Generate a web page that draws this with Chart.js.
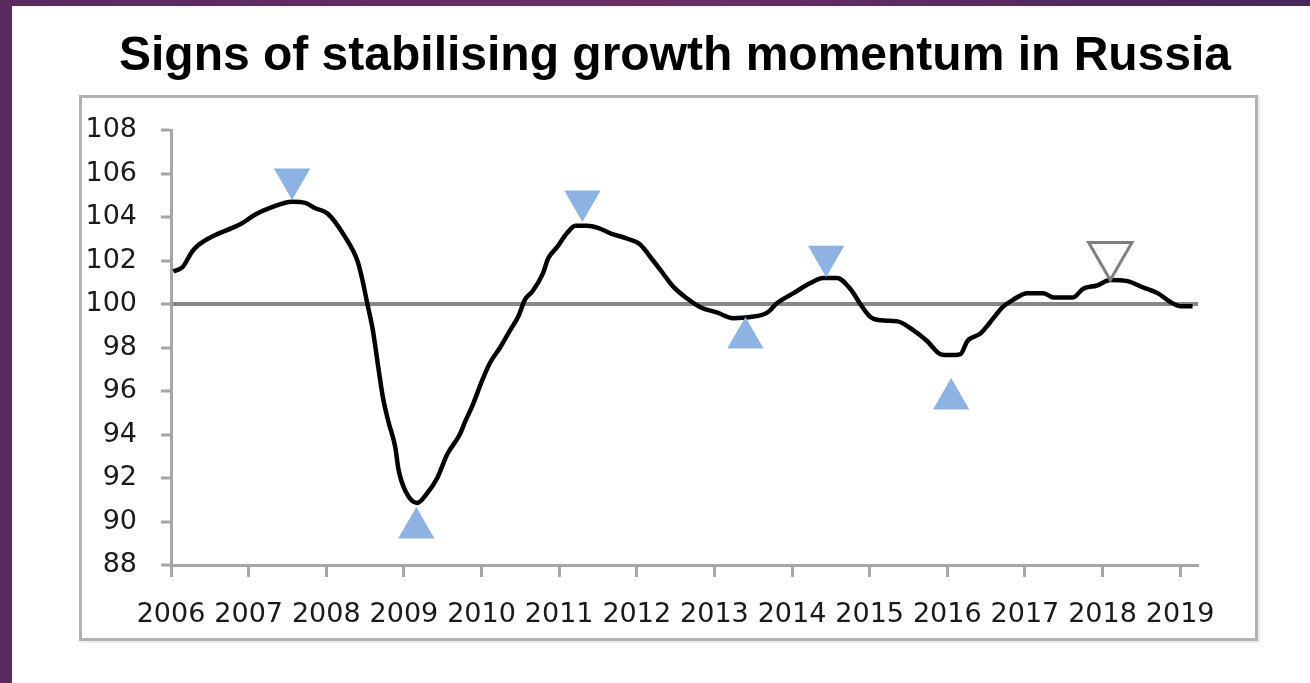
<!DOCTYPE html>
<html lang="en">
<head>
    <meta charset="UTF-8">
    <title>Signs of stabilising growth momentum in Russia</title>
    <script src="https://cdn.jsdelivr.net/npm/chart.js"></script>
    <style>
        html, body { margin: 0; padding: 0; }
        body {
            width: 1310px; height: 683px; overflow: hidden; position: relative;
            background: linear-gradient(90deg, #582a60, #6b2e66 50%, #45265a);
        }
        #page { position: absolute; left: 12px; top: 6px; width: 1298px; height: 677px; background: #fff; }
        #frame {
            position: absolute; left: 79px; top: 95px; width: 1179px; height: 546px;
            box-sizing: border-box; border: 3px solid #b2b2b2; box-shadow: 2px 2px 0 #ececec;
        }
        #chart { position: absolute; left: 0; top: 0; }
    </style>
</head>
<body>
    <div id="page"></div>
    <div id="frame"></div>
    <canvas id="chart" width="1310" height="683"></canvas>
    <script>
        const titleText = 'Signs of stabilising growth momentum in Russia';

        // Composite indicator (decimal years)
        const years = [
            2006.03, 2006.15, 2006.27, 2006.35, 2006.53, 2006.79, 2006.91, 2007.08, 2007.30, 2007.56,
            2007.73, 2007.86, 2008.02, 2008.24, 2008.40, 2008.46, 2008.53, 2008.60, 2008.67, 2008.73,
            2008.80, 2008.89, 2008.93, 2009.02, 2009.17, 2009.30, 2009.43, 2009.56, 2009.72, 2009.79,
            2009.88, 2010.01, 2010.11, 2010.24, 2010.37, 2010.47, 2010.56, 2010.66, 2010.79, 2010.86,
            2010.97, 2011.10, 2011.21, 2011.36, 2011.50, 2011.66, 2011.88, 2012.04, 2012.21, 2012.34,
            2012.47, 2012.65, 2012.82, 2013.04, 2013.24, 2013.46, 2013.68, 2013.81, 2014.02, 2014.23,
            2014.40, 2014.58, 2014.75, 2014.88, 2015.01, 2015.14, 2015.36, 2015.56, 2015.74, 2015.91,
            2016.04, 2016.17, 2016.26, 2016.43, 2016.55, 2016.71, 2016.85, 2017.03, 2017.24, 2017.37,
            2017.62, 2017.75, 2017.93, 2018.10, 2018.32, 2018.53, 2018.71, 2018.87, 2019.00, 2019.16
        ];
        const values = [
            101.5, 101.7, 102.4, 102.7, 103.1, 103.5, 103.7, 104.1, 104.45, 104.7,
            104.65, 104.4, 104.15, 103.1, 102.0, 101.2, 100.0, 98.8, 97.1, 95.7,
            94.6, 93.4, 92.4, 91.4, 90.85, 91.3, 92.0, 93.1, 94.0, 94.6,
            95.3, 96.5, 97.3, 98.0, 98.8, 99.4, 100.2, 100.6, 101.4, 102.1,
            102.6, 103.25, 103.6, 103.6, 103.5, 103.25, 103.0, 102.75, 102.0, 101.4,
            100.8, 100.25, 99.85, 99.6, 99.35, 99.4, 99.6, 100.05, 100.5, 100.95,
            101.2, 101.2, 100.7, 100.0, 99.4, 99.25, 99.2, 98.8, 98.3, 97.7,
            97.65, 97.7, 98.3, 98.65, 99.15, 99.85, 100.2, 100.5, 100.5, 100.3,
            100.3, 100.7, 100.85, 101.1, 101.05, 100.75, 100.5, 100.1, 99.9, 99.9
        ];

        // Turning points
        const peakYears = [2007.56, 2011.30, 2014.44];
        const peakValues = [105.75, 104.74, 102.2];
        const troughYears = [2009.16, 2013.40, 2016.05];
        const troughValues = [89.7, 98.44, 95.63];
        const signalYears = [2018.10];
        const signalValues = [102.25];

        // Axis ticks
        const yearTicks = [2006, 2007, 2008, 2009, 2010, 2011, 2012, 2013, 2014, 2015, 2016, 2017, 2018, 2019];
        const yMin = 88, yMax = 108, yStep = 2;
        const reference = 100;

        const pts = (xs, ys) => xs.map((x, i) => ({ x: x, y: ys[i] }));
        const axisGrey = '#a6a6a6';
        const tickFont = { family: 'DejaVu Sans', size: 27 };

        // title sits centred over the framed box, not over the plot area
        const pageTitle = {
            id: 'pageTitle',
            afterDraw(chart) {
                const ctx = chart.ctx;
                ctx.save();
                ctx.font = 'bold 48px "Liberation Sans"';
                ctx.fillStyle = '#000';
                ctx.textAlign = 'center';
                ctx.textBaseline = 'alphabetic';
                ctx.fillText(titleText, 675, 70);
                ctx.restore();
            }
        };

        new Chart(document.getElementById('chart'), {
            type: 'line',
            data: {
                datasets: [
                    {
                        data: pts(years, values),
                        borderColor: '#000',
                        borderWidth: 4.5,
                        pointRadius: 0,
                        cubicInterpolationMode: 'monotone',
                        order: 2
                    },
                    {
                        type: 'scatter',
                        data: pts(peakYears, peakValues),
                        pointStyle: 'triangle',
                        rotation: 180,
                        pointRadius: 21,
                        backgroundColor: '#8db3e2',
                        borderWidth: 0,
                        clip: false,
                        order: 1
                    },
                    {
                        type: 'scatter',
                        data: pts(troughYears, troughValues),
                        pointStyle: 'triangle',
                        pointRadius: 21,
                        backgroundColor: '#8db3e2',
                        borderWidth: 0,
                        clip: false,
                        order: 1
                    },
                    {
                        type: 'scatter',
                        data: pts(signalYears, signalValues),
                        pointStyle: 'triangle',
                        rotation: 180,
                        pointRadius: 25,
                        backgroundColor: 'rgba(255,255,255,0)',
                        borderColor: '#7f7f7f',
                        borderWidth: 3,
                        clip: false,
                        order: 1
                    }
                ]
            },
            options: {
                responsive: false,
                animation: false,
                events: [],
                layout: { padding: { top: 130, right: 112, bottom: 58, left: 0 } },
                plugins: {
                    legend: { display: false },
                    tooltip: { enabled: false }
                },
                scales: {
                    x: {
                        type: 'linear',
                        min: 2006,
                        max: 2019.23,
                        afterBuildTicks: s => { s.ticks = yearTicks.map(v => ({ value: v })); },
                        afterFit: s => { s.height = 60; },
                        ticks: {
                            font: tickFont,
                            color: '#1a1a1a',
                            padding: 22,
                            maxRotation: 0,
                            autoSkip: false,
                            callback: v => String(v)
                        },
                        grid: { drawOnChartArea: false, tickLength: 12, tickColor: axisGrey, tickWidth: 3 },
                        border: { color: axisGrey, width: 3 }
                    },
                    y: {
                        min: yMin,
                        max: yMax,
                        afterFit: s => { s.width = 171; },
                        ticks: { stepSize: yStep, font: tickFont, color: '#1a1a1a', padding: 24 },
                        grid: {
                            tickLength: 10,
                            tickColor: axisGrey,
                            tickWidth: 3,
                            color: c => c.tick && c.tick.value === reference ? '#878787' : 'rgba(0,0,0,0)',
                            lineWidth: c => c.tick && c.tick.value === reference ? 4 : 0
                        },
                        border: { color: axisGrey, width: 3 }
                    }
                }
            },
            plugins: [pageTitle]
        });
    </script>
</body>
</html>
